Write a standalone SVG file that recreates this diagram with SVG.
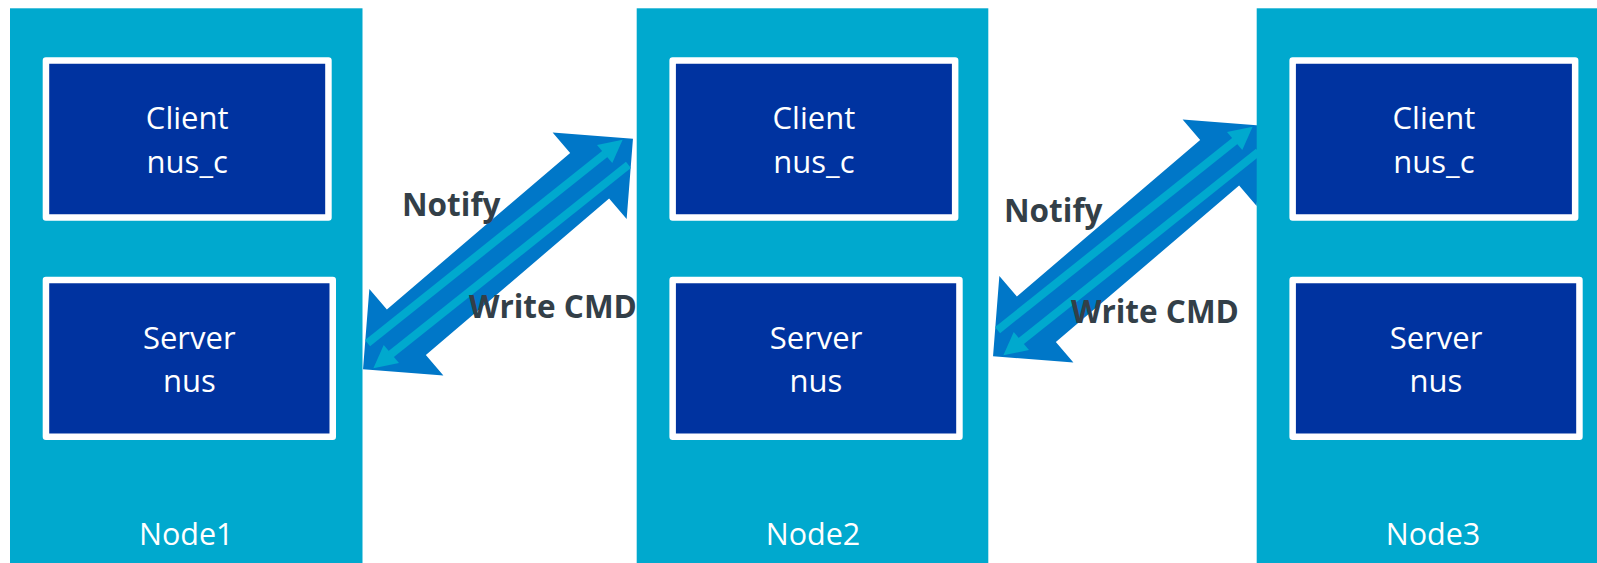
<svg xmlns="http://www.w3.org/2000/svg" xmlns:xlink="http://www.w3.org/1999/xlink" width="1597" height="563" viewBox="0 0 1597 563">
  <style>
    .node { fill: #00A9CE; }
    .box { fill: #0033A0; stroke: #FFFFFF; stroke-width: 6.5; stroke-linejoin: round; }
    .txt { font-family: "Open Sans", "Noto Sans", "Liberation Sans", sans-serif; fill: #FFFFFF; text-anchor: middle; font-size: 31px; }
    .name { font-size: 30.5px; }
    .lbl { font-family: "Open Sans", "Noto Sans", "Liberation Sans", sans-serif; font-weight: bold; font-size: 31.5px; fill: #333F48; }
    .big { fill: #0077C8; }
    .thin { stroke: #00A9CE; stroke-width: 8; fill: none; }
    .head { fill: #00A9CE; }
  </style>
  <defs>
    <!-- double-headed block arrow, drawn along the x axis around its centre -->
    <g id="link">
      <polygon class="big" points="177.5,0 120.5,-57 120.5,-30 -120.5,-30 -120.5,-57 -177.5,0 -120.5,57 -120.5,30 120.5,30 120.5,57"/>
      <g id="lane">
        <line class="thin" x1="-157" y1="-17" x2="148" y2="-6.7"/>
        <polygon class="head" points="146,-18.5 169,-6 146,5"/>
      </g>
      <use xlink:href="#lane" transform="rotate(180)"/>
    </g>
  </defs>
  <rect width="1597" height="563" fill="#FFFFFF"/>

  <g id="connectors">
    <g id="link1">
      <use xlink:href="#link" transform="translate(498,254) rotate(-40.5)"/>
      <text class="lbl" x="402" y="216">Notify</text>
      <text class="lbl" x="469" y="318">Write CMD</text>
    </g>
    <g id="link2">
      <use xlink:href="#link" transform="translate(1128,241) rotate(-40.5)"/>
      <text class="lbl" x="1004" y="222">Notify</text>
      <text class="lbl" x="1071" y="323">Write CMD</text>
    </g>
  </g>

  <g id="node1" transform="translate(10,0)">
    <rect class="node" x="0" y="8.3" width="352.5" height="560"/>
    <rect class="box" x="35.95" y="60.55" width="282.5" height="156.9"/>
    <text class="txt" x="177.2" y="129.3">Client</text>
    <text class="txt" x="177.2" y="172.7">nus_c</text>
    <rect class="box" x="35.95" y="279.95" width="286.8" height="156.8"/>
    <text class="txt" x="179.3" y="349.3">Server</text>
    <text class="txt" x="179.3" y="391.7">nus</text>
    <text class="txt name" x="176.3" y="545">Node1</text>
  </g>

  <g id="node2" transform="translate(636.7,0)">
    <rect class="node" x="0" y="8.3" width="351.6" height="560"/>
    <rect class="box" x="35.95" y="60.55" width="282.5" height="156.9"/>
    <text class="txt" x="177.2" y="129.3">Client</text>
    <text class="txt" x="177.2" y="172.7">nus_c</text>
    <rect class="box" x="35.95" y="279.95" width="286.8" height="156.8"/>
    <text class="txt" x="179.3" y="349.3">Server</text>
    <text class="txt" x="179.3" y="391.7">nus</text>
    <text class="txt name" x="176.3" y="545">Node2</text>
  </g>

  <g id="node3" transform="translate(1256.7,0)">
    <rect class="node" x="0" y="8.3" width="352" height="560"/>
    <rect class="box" x="35.95" y="60.55" width="282.5" height="156.9"/>
    <text class="txt" x="177.2" y="129.3">Client</text>
    <text class="txt" x="177.2" y="172.7">nus_c</text>
    <rect class="box" x="35.95" y="279.95" width="286.8" height="156.8"/>
    <text class="txt" x="179.3" y="349.3">Server</text>
    <text class="txt" x="179.3" y="391.7">nus</text>
    <text class="txt name" x="176.3" y="545">Node3</text>
  </g>
</svg>
